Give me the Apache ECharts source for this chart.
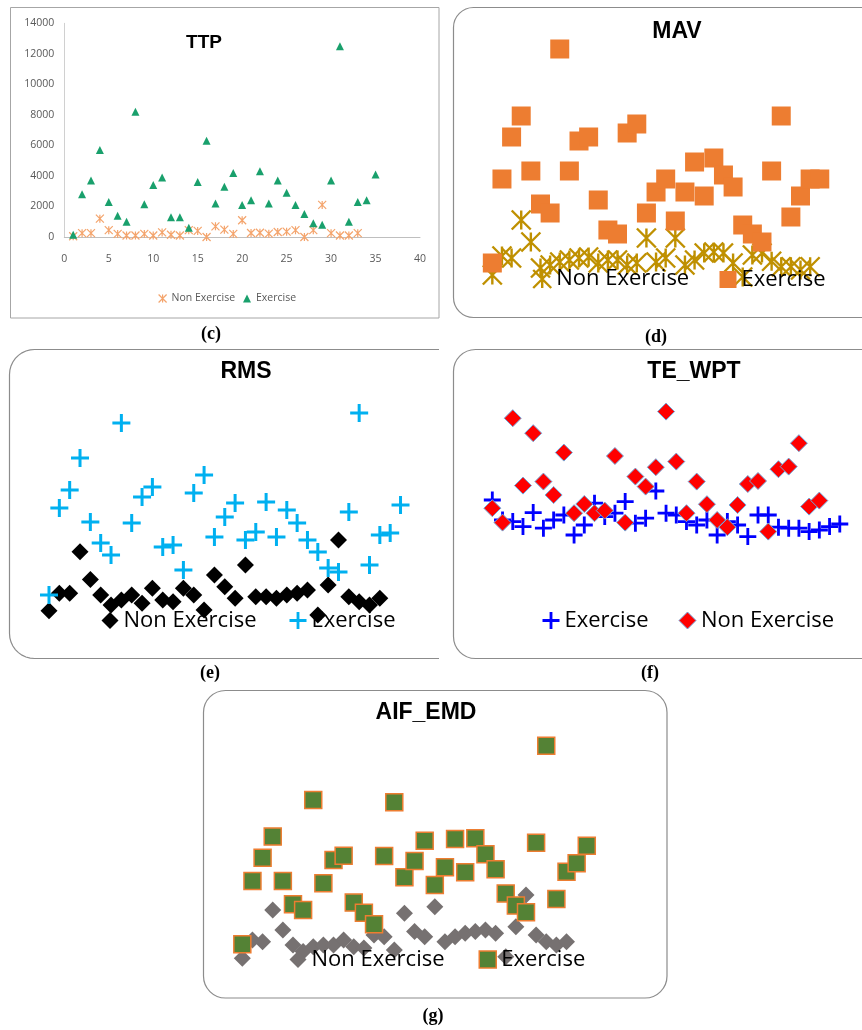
<!DOCTYPE html>
<html><head><meta charset="utf-8">
<script src="https://cdn.jsdelivr.net/npm/echarts@6/dist/echarts.min.js"></script>
<style>html,body{margin:0;padding:0;background:#fff}#main{width:862px;height:1030px}</style>
</head><body><div id="main"></div>
<script>
// ---- data (subject index 1..35; hidden-axis panels use relative units 0-100) ----
const subjectIds = [1,2,3,4,5,6,7,8,9,10,11,12,13,14,15,16,17,18,19,20,21,22,23,24,25,26,27,28,29,30,31,32,33,34,35];
const ttpXTicks = [0,5,10,15,20,25,30,35,40];
const ttpYTicks = [0,2000,4000,6000,8000,10000,12000,14000];

const ttpNonExercise = [50,250,250,1200,450,200,100,100,200,100,300,150,100,450,400,0,700,480,200,1100,260,280,220,330,350,450,0,450,2100,250,100,100,250];
const ttpExercise = [150,2800,3700,5700,2300,1400,1000,8200,2150,3400,3900,1300,1300,600,3600,6300,2200,3300,4200,2100,2400,4300,2200,3700,2900,2100,1500,900,800,3700,12500,1000,2300,2400,4100];

const mavNonExercise = [6,13.6,12.8,28,19.2,8.8,10,11.2,12,12.8,13.2,10.8,12,12,10,10.8,20.8,11.2,12.8,20.8,10,12,14.8,15.2,14.8,10.8,5.2,14,14.8,11.5,9.3,9.3,8,9.3];
const mavExercise = [10.8,44.4,61.2,69.6,47.6,34.4,30.8,96.4,47.6,59.6,61.2,36,24,22.4,62.8,66.4,30.8,39.2,44.4,27.6,39.2,51.2,37.6,52.8,46,41.2,26,22.4,19.2,47.6,69.6,29.2,37.6,44.4,44.4];

const rmsNonExercise = [8.4,16,16,34,22,15.2,10.9,13,15.2,11.6,18.1,13,12.3,18.1,15.2,8.7,23.9,18.8,13.8,28.3,14.5,14.5,13.8,15.2,16,17.4,6.5,19.6,39.1,14.5,12.3,10.9,13.8];
const rmsExercise = [15.2,53,60.9,74.8,47,37.8,32.6,90,46.5,57.8,62.2,36.1,37,26.1,59.6,67.4,40.4,49.1,55.2,39.1,42.6,55.7,40.4,52.2,46.5,39.1,33.9,27,25.2,51.3,94.3,28.3,41.3,42.2,54.3];

const teExercise = [50,40,39.2,36.7,43.7,35.9,40,42.5,32.5,37.5,48.4,41.7,43.4,49.2,38.4,40.9,54.5,43.4,42.5,39.2,37.5,40,32.5,39.2,37.5,31.7,42.5,42.5,36.4,35.9,35.9,34.2,35,36.7,38];
const teNonExercise = [45.9,38.7,90.9,57.2,83.4,59.2,52.5,73.7,43.4,48,43.4,44.7,72,38.7,61.7,56.7,66.4,94.2,69.2,43.4,59.2,47.9,40,36.4,47.5,58,59.5,34.2,65.4,66.7,78.4,46.7,49.7];

const aifNonExercise = [5.1,13,12.3,26.1,17.4,10.9,8,10.1,10.9,10.9,13,10.1,9.6,15.2,14.5,8.7,24.7,16.7,14.5,27.5,12.3,14.5,16,16.7,17.4,16,5.8,18.8,32.6,15.2,12.3,10.9,12.3];
const aifExercise = [11.2,38.7,48.8,58,38.7,28.6,26.1,73.9,37.7,47.8,49.7,29.3,24.9,19.9,49.6,72.9,40.3,47.4,56.2,37,44.7,57,42.5,57.3,50.3,43.8,33.3,28,25.1,55.3,97.5,30.9,42.7,46.4,54];

const panelTitles = ['TTP','MAV','RMS','TE_WPT','AIF_EMD'];
const panelLabels = ['(c)','(d)','(e)','(f)','(g)'];
const seriesLabels = {nonEx:'Non Exercise', ex:'Exercise'};

// ---- chart ----
const chart = echarts.init(document.getElementById('main'), null, {renderer:'canvas'});
const pairs = vals => vals.map((v,i)=>[subjectIds[i], v]);
const ASTER = 'path://M0,0L10,10M10,0L0,10M5,0L5,10';
const PLUS = 'path://M7.5,0H10.5V7.5H18V10.5H10.5V18H7.5V10.5H0V7.5H7.5Z';
const LEGFONT = {fontFamily:'Open Sans', fontSize:22, color:'#000'};

const labelOf = {};
function ser(id, label, grid, vals, symbol, size, style){
  labelOf[id] = label;
  return {id, name:id, type:'scatter', xAxisIndex:grid, yAxisIndex:grid, data:pairs(vals),
    symbol, symbolSize:size, itemStyle:style, animation:false, emphasis:{disabled:true}};
}
function leg(id, icon, style, cx, cy, size, font){
  return {data:[{name:id, icon, itemStyle:style}], left:cx - size/2, top:cy - size/2,
    itemWidth:size, itemHeight:size, padding:0, itemGap:0, selectedMode:false,
    formatter: n => labelOf[n], textStyle:Object.assign({lineHeight:size}, font)};
}

const sty = {
  ttpNon:{color:'rgba(0,0,0,0)', borderColor:'#f4a46c', borderWidth:1.2, opacity:1},
  ttpEx:{color:'#19a06c', opacity:1},
  mavNon:{color:'rgba(0,0,0,0)', borderColor:'#bf9000', borderWidth:2.4, opacity:1},
  mavEx:{color:'#ed7d31', opacity:1},
  rmsNon:{color:'#000000', opacity:1},
  rmsEx:{color:'#00b0f0', opacity:1},
  teEx:{color:'#0000ff', opacity:1},
  teNon:{color:'#ff0000', borderColor:'#6fa8dc', borderWidth:1, opacity:1},
  aifNon:{color:'#767171', opacity:1},
  aifEx:{color:'#548235', borderColor:'#ed7d31', borderWidth:1.5, opacity:1}
};

const series = [
  ser('ttpNon', seriesLabels.nonEx, 0, ttpNonExercise, ASTER, 8, sty.ttpNon),
  ser('ttpEx', seriesLabels.ex, 0, ttpExercise, 'triangle', 8, sty.ttpEx),
  ser('mavNon', seriesLabels.nonEx, 1, mavNonExercise, ASTER, 19, sty.mavNon),
  ser('mavEx', seriesLabels.ex, 1, mavExercise, 'rect', 19, sty.mavEx),
  ser('rmsNon', seriesLabels.nonEx, 2, rmsNonExercise, 'diamond', 17, sty.rmsNon),
  ser('rmsEx', seriesLabels.ex, 2, rmsExercise, PLUS, 18, sty.rmsEx),
  ser('teEx', seriesLabels.ex, 3, teExercise, PLUS, 17, sty.teEx),
  ser('teNon', seriesLabels.nonEx, 3, teNonExercise, 'diamond', 17, sty.teNon),
  ser('aifNon', seriesLabels.nonEx, 4, aifNonExercise, 'diamond', 17, sty.aifNon),
  ser('aifEx', seriesLabels.ex, 4, aifExercise, 'rect', 17, sty.aifEx)
];

const legends = [
  leg('ttpNon', ASTER, sty.ttpNon, 162, 297, 8, {fontFamily:'Open Sans', fontSize:10.5, color:'#595959'}),
  leg('ttpEx', 'triangle', sty.ttpEx, 247, 297, 8, {fontFamily:'Open Sans', fontSize:10.5, color:'#595959'}),
  leg('mavNon', ASTER, sty.mavNon, 541, 277, 18, LEGFONT),
  leg('mavEx', 'rect', sty.mavEx, 728, 277, 17, LEGFONT),
  leg('rmsNon', 'diamond', sty.rmsNon, 110, 618, 17, LEGFONT),
  leg('rmsEx', PLUS, sty.rmsEx, 298, 618, 17, LEGFONT),
  leg('teEx', PLUS, sty.teEx, 551, 618, 17, LEGFONT),
  leg('teNon', 'diamond', sty.teNon, 687, 618, 17, LEGFONT),
  leg('aifNon', 'diamond', sty.aifNon, 298, 957, 17, LEGFONT),
  leg('aifEx', 'rect', sty.aifEx, 487, 957, 17, LEGFONT)
];

const titlePos = [[204,43,19],[677,32,23],[246,372,23],[694,372,23],[426,713,23]];
const titles = panelTitles.map((t,i)=>({text:t, left:titlePos[i][0], top:titlePos[i][1], textAlign:'center',
  textVerticalAlign:'middle', padding:0,
  textStyle:{fontFamily:'Liberation Sans', fontWeight:'bold', fontSize:titlePos[i][2], color:'#000'}}));

const grids = [
  {left:64.3, top:23.3, width:355.7, height:213.7},
  {left:482.7, top:40, width:346.7, height:250},
  {left:38.66, top:400, width:372.2, height:230},
  {left:482.1, top:400, width:367.9, height:200},
  {left:232.2, top:740, width:364.7, height:230}
];
const axLbl = {fontFamily:'Open Sans', fontSize:10.5, color:'#595959', formatter: v => String(v)};
const xAxes = [{gridIndex:0, type:'value', min:ttpXTicks[0], max:ttpXTicks[ttpXTicks.length-1], interval:5,
  axisLine:{show:true, lineStyle:{color:'#bfbfbf'}}, axisTick:{show:false}, splitLine:{show:false},
  axisLabel:Object.assign({margin:17}, axLbl)}];
const yAxes = [{gridIndex:0, type:'value', min:ttpYTicks[0], max:ttpYTicks[ttpYTicks.length-1], interval:2000,
  axisLine:{show:true, lineStyle:{color:'#d0d0d0'}}, axisTick:{show:false}, splitLine:{show:false},
  axisLabel:Object.assign({margin:10}, axLbl)}];
for (let k=1;k<5;k++){
  xAxes.push({gridIndex:k, type:'value', min:0, max:36, show:false});
  yAxes.push({gridIndex:k, type:'value', min:0, max:100, show:false});
}

// frames
function roundedOpen(x0, y0, x1, y1, r){ // left-side rounded frame, open on the right
  const pts = [[x1,y0]];
  for (let a=90;a<=180;a+=10){ const t=a*Math.PI/180; pts.push([x0+r+r*Math.cos(t), y0+r-r*Math.sin(t)]); }
  for (let a=180;a<=270;a+=10){ const t=a*Math.PI/180; pts.push([x0+r+r*Math.cos(t), y1-r-r*Math.sin(t)]); }
  pts.push([x1,y1]);
  return pts;
}
const frameStroke = {stroke:'#8c8c8c', lineWidth:1.2, fill:null};
const graphics = [
  {type:'rect', shape:{x:10.5, y:7.5, width:428.5, height:310.5}, style:{stroke:'#a6a6a6', lineWidth:1, fill:null}, z:0, silent:true},
  {type:'rect', shape:{x:453.5, y:7.5, width:440, height:310, r:20}, style:frameStroke, z:0, silent:true},
  {type:'polyline', shape:{points:roundedOpen(9.5, 349.5, 439, 658.5, 25)}, style:frameStroke, z:0, silent:true},
  {type:'rect', shape:{x:453.5, y:349.5, width:440, height:309, r:22}, style:frameStroke, z:0, silent:true},
  {type:'rect', shape:{x:203.5, y:690.5, width:463.5, height:307.5, r:22}, style:frameStroke, z:0, silent:true}
];
const labelPos = [[211,334],[656,337],[210,673],[650,673],[433,1016]];
panelLabels.forEach((t,i)=>graphics.push({type:'text', x:labelPos[i][0], y:labelPos[i][1], silent:true,
  style:{text:t, textAlign:'center', textVerticalAlign:'middle', font:'bold 18px "Liberation Serif"', fill:'#000'}}));

chart.setOption({
  backgroundColor:'#ffffff',
  animation:false,
  title:titles,
  legend:legends,
  grid:grids,
  xAxis:xAxes,
  yAxis:yAxes,
  series:series,
  graphic:{elements:graphics}
});
</script></body></html>
